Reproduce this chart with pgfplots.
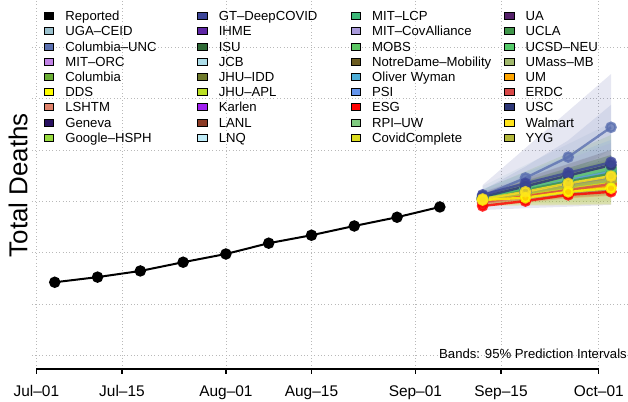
\documentclass[border=0pt]{standalone}
\usepackage{pgfplots}
\pgfplotsset{compat=1.18}
\usepackage{fontspec}
\setmainfont{Liberation Sans}
\definecolor{cUGA}{HTML}{9AC0CD}
\definecolor{cCUNC}{HTML}{5B70B0}
\definecolor{cMITORC}{HTML}{C183E6}
\definecolor{cColumbia}{HTML}{6BAE35}
\definecolor{cDDS}{HTML}{FFFF00}
\definecolor{cLSHTM}{HTML}{E0826A}
\definecolor{cGeneva}{HTML}{281060}
\definecolor{cGoogle}{HTML}{98DB3F}
\definecolor{cGT}{HTML}{3C4599}
\definecolor{cIHME}{HTML}{5E26A5}
\definecolor{cISU}{HTML}{2F6A35}
\definecolor{cJCB}{HTML}{ADDDE9}
\definecolor{cJHUIDD}{HTML}{6F7A2C}
\definecolor{cJHUAPL}{HTML}{BBE024}
\definecolor{cKarlen}{HTML}{A020F0}
\definecolor{cLANL}{HTML}{8B3A24}
\definecolor{cLNQ}{HTML}{C0ECF8}
\definecolor{cMITLCP}{HTML}{3CB878}
\definecolor{cMITCA}{HTML}{A99ADB}
\definecolor{cMOBS}{HTML}{5CC864}
\definecolor{cND}{HTML}{6B5B20}
\definecolor{cOW}{HTML}{4DAED8}
\definecolor{cPSI}{HTML}{6495ED}
\definecolor{cESG}{HTML}{FF0000}
\definecolor{cRPI}{HTML}{7FCA7F}
\definecolor{cCC}{HTML}{DCDC1E}
\definecolor{cUA}{HTML}{55216A}
\definecolor{cUCLA}{HTML}{40964A}
\definecolor{cUCSD}{HTML}{55CA6A}
\definecolor{cUMass}{HTML}{A1B86D}
\definecolor{cUM}{HTML}{FFA500}
\definecolor{cERDC}{HTML}{D84848}
\definecolor{cUSC}{HTML}{2C3676}
\definecolor{cWalmart}{HTML}{FFE41C}
\definecolor{cYYG}{HTML}{B4B83A}
\newcommand\band[9]{\addplot[forget plot, draw=none, fill=#1, fill opacity=0.13] coordinates {(73,#2)(80,#3)(87,#4)(94,#5)(94,#9)(87,#8)(80,#7)(73,#6)};}
\newcommand\med[5]{\addplot[forget plot, color=#1, opacity=0.8, line width=2.4bp, mark=*, mark size=4.6bp] coordinates {(73,#2)(80,#3)(87,#4)(94,#5)};}
\newcommand\leg[2]{\addlegendimage{fill=#1}\addlegendentry{#2}}
\begin{document}
\begin{tikzpicture}
\useasboundingbox (0,0) rectangle (628bp,402bp);
\begin{axis}[
  at={(32bp,33bp)}, anchor=south west, scale only axis,
  width=596bp, height=369bp,
  xmin=-0.72, xmax=96.78, ymin=94.75, ymax=238.33,
  clip=false,
  axis line style={draw=none},
  xtick={0,14,31,45,62,76,92},
  xticklabels={Jul–01,Jul–15,Aug–01,Aug–15,Sep–01,Sep–15,Oct–01},
  ytick={100,120,...,220}, yticklabel={\mbox{}},
  tick pos=left, tick align=outside,
  xtick style={black, line width=1.3bp}, major tick length=4.5bp,
  ytick style={draw=none},
  xmajorgrids, ymajorgrids,
  grid style={color=gray!55, line width=0.8bp, dash pattern=on 0.8bp off 2.6bp},
  xticklabel style={font=\fontsize{15.5}{18}\selectfont, anchor=base, yshift=-23bp},
  ylabel={Total Deaths},
  ylabel style={at={(axis description cs:-0.0079,0.4986)}, anchor=base, font=\fontsize{26}{30}\selectfont},
  legend columns=4, legend cell align=left,
  legend image code/.code={\fill[#1] (0bp,-3.5bp) rectangle (9.5bp,3.5bp);},
  legend style={at={(0.02013,0.97724)}, anchor=north west, draw=none, fill=none,
    inner sep=0pt, outer sep=0pt, row sep=0pt,
    font=\fontsize{13.2}{15}\selectfont,
    nodes={inner sep=0pt, text width=120bp, text height=12.3bp, text depth=2.9bp},
    /tikz/every odd column/.append style={column sep=11.5bp},
    /tikz/every even column/.append style={column sep=12bp}},
]
% reported
\addplot[forget plot, black, line width=2bp, mark=*, mark size=4.7bp] coordinates {
  (3,128.5)(10,130.5)(17,132.9)(24,136.3)(31,139.5)(38,143.7)(45,146.8)(52,150.4)(59,153.8)(66,157.8)};
% bands: lower (4 dates), upper (4 dates)
\band{cUGA}{159.5}{161.0}{162.5}{164.0}{165.9}{174.1}{182.3}{190.5}
\band{cCUNC}{159.9}{164.7}{170.6}{180.0}{164.3}{173.5}{183.7}{197.5}
\band{cMITORC}{159.9}{161.4}{162.9}{164.4}{161.9}{165.4}{168.7}{172.2}
\band{cColumbia}{159.5}{161.0}{162.5}{164.0}{164.5}{171.6}{178.7}{185.8}
\band{cDDS}{159.9}{160.1}{161.8}{162.5}{161.3}{163.0}{166.1}{168.3}
\band{cLSHTM}{158.0}{159.5}{161.0}{162.5}{161.8}{166.5}{171.4}{176.1}
\band{cGeneva}{160.1}{161.6}{163.0}{164.4}{161.6}{164.5}{167.3}{170.2}
\band{cGoogle}{158.8}{159.2}{159.6}{160.0}{162.2}{166.1}{170.2}{174.1}
\band{cGT}{156.6}{157.3}{157.9}{158.6}{166.3}{180.7}{195.1}{209.5}
\band{cIHME}{159.9}{162.0}{164.2}{166.3}{162.4}{167.0}{171.5}{176.1}
\band{cISU}{160.0}{162.1}{164.2}{166.3}{162.7}{167.4}{172.1}{176.8}
\band{cJCB}{159.5}{161.0}{162.5}{164.0}{163.8}{169.3}{174.6}{180.0}
\band{cJHUIDD}{159.3}{160.8}{162.2}{163.6}{163.2}{168.9}{174.4}{180.0}
\band{cJHUAPL}{158.5}{158.7}{158.9}{159.0}{161.7}{165.2}{168.7}{172.2}
\band{cKarlen}{159.6}{161.2}{162.8}{164.4}{162.1}{166.1}{170.1}{174.1}
\band{cLANL}{159.8}{161.6}{163.4}{165.2}{162.0}{166.1}{170.0}{174.1}
\band{cLNQ}{159.2}{160.3}{161.4}{162.5}{162.7}{167.1}{171.7}{176.1}
\band{cMITLCP}{160.3}{163.0}{165.7}{168.3}{162.3}{166.9}{171.5}{176.1}
\band{cMITCA}{159.5}{161.0}{162.5}{164.0}{163.7}{170.1}{176.4}{182.7}
\band{cMOBS}{160.0}{162.1}{164.2}{166.3}{162.5}{167.1}{171.5}{176.1}
\band{cND}{159.2}{160.3}{161.4}{162.5}{163.0}{168.1}{173.0}{178.0}
\band{cOW}{159.9}{161.4}{162.9}{164.4}{161.9}{165.4}{168.7}{172.2}
\band{cPSI}{159.5}{160.4}{161.5}{162.5}{164.8}{171.2}{177.6}{183.9}
\band{cESG}{157.8}{159.3}{161.3}{162.1}{158.7}{161.1}{163.9}{165.6}
\band{cRPI}{159.4}{161.1}{162.7}{164.4}{162.4}{167.0}{171.5}{176.1}
\band{cCC}{158.3}{158.5}{158.6}{158.8}{161.6}{164.9}{168.1}{171.4}
\band{cUA}{159.5}{161.0}{162.5}{164.0}{163.6}{169.1}{174.6}{180.0}
\band{cUCLA}{160.2}{162.0}{163.9}{165.7}{162.7}{167.0}{171.2}{175.5}
\band{cUCSD}{160.1}{162.9}{165.6}{168.3}{162.6}{167.7}{172.9}{178.0}
\band{cUMass}{159.0}{160.5}{162.0}{163.5}{162.7}{167.9}{172.9}{178.0}
\band{cUM}{159.1}{160.2}{161.1}{162.1}{161.0}{164.0}{166.9}{169.8}
\band{cERDC}{158.9}{160.5}{162.1}{163.6}{160.5}{163.6}{166.7}{169.8}
\band{cUSC}{160.7}{163.9}{167.1}{170.2}{162.7}{167.8}{172.9}{178.0}
\band{cWalmart}{160.0}{162.0}{164.4}{166.3}{161.7}{165.3}{169.4}{173.0}
\band{cYYG}{158.1}{158.3}{158.4}{158.6}{162.5}{167.0}{171.6}{176.1}
% medians
\med{cUGA}{161.3}{164.9}{168.6}{172.2}
\med{cCUNC}{162.1}{169.1}{177.2}{188.8}
\med{cMITORC}{160.9}{163.4}{165.8}{168.3}
\med{cColumbia}{161.3}{165.2}{169.1}{173.0}
\med{cLSHTM}{159.3}{161.6}{164.0}{166.3}
\med{cGeneva}{160.9}{163.1}{165.3}{167.5}
\med{cGoogle}{160.9}{163.6}{166.4}{169.1}
\med{cIHME}{160.9}{164.0}{167.1}{170.2}
\med{cISU}{161.3}{164.7}{168.0}{171.4}
\med{cJCB}{160.9}{163.4}{165.8}{168.3}
\med{cJHUIDD}{160.5}{163.4}{166.2}{169.1}
\med{cJHUAPL}{160.5}{162.8}{165.2}{167.5}
\med{cKarlen}{160.9}{163.8}{166.6}{169.5}
\med{cLANL}{160.9}{163.9}{166.8}{169.8}
\med{cLNQ}{160.9}{163.6}{166.4}{169.1}
\med{cMITLCP}{161.3}{164.9}{168.6}{172.2}
\med{cMITCA}{161.3}{165.2}{169.1}{173.0}
\med{cMOBS}{161.3}{164.7}{168.0}{171.4}
\med{cND}{160.9}{163.8}{166.6}{169.5}
\med{cOW}{160.9}{163.4}{165.8}{168.3}
\med{cPSI}{161.7}{164.9}{168.2}{171.4}
\med{cRPI}{160.9}{164.0}{167.1}{170.2}
\med{cCC}{160.5}{162.7}{164.9}{167.1}
\med{cUA}{160.9}{163.6}{166.4}{169.1}
\med{cUCLA}{161.5}{164.6}{167.7}{170.8}
\med{cUCSD}{161.3}{165.2}{169.1}{173.0}
\med{cUMass}{160.5}{163.4}{166.2}{169.1}
\med{cUM}{160.1}{162.1}{164.0}{166.0}
\med{cERDC}{159.7}{162.0}{164.4}{166.7}
\med{cYYG}{160.5}{163.1}{165.7}{168.3}
\med{cUSC}{161.7}{165.8}{170.0}{174.1}
\med{cGT}{162.5}{167.0}{171.1}{175.2}
\med{cESG}{158.2}{160.1}{162.5}{163.7}
\med{cDDS}{160.5}{161.4}{163.7}{165.1}
\med{cWalmart}{160.9}{163.7}{167.0}{169.8}
% legend, row by row
\leg{black}{Reported}\leg{cGT}{GT–DeepCOVID}\leg{cMITLCP}{MIT–LCP}\leg{cUA}{UA}
\leg{cUGA}{UGA–CEID}\leg{cIHME}{IHME}\leg{cMITCA}{MIT–CovAlliance}\leg{cUCLA}{UCLA}
\leg{cCUNC}{Columbia–UNC}\leg{cISU}{ISU}\leg{cMOBS}{MOBS}\leg{cUCSD}{UCSD–NEU}
\leg{cMITORC}{MIT–ORC}\leg{cJCB}{JCB}\leg{cND}{NotreDame–Mobility}\leg{cUMass}{UMass–MB}
\leg{cColumbia}{Columbia}\leg{cJHUIDD}{JHU–IDD}\leg{cOW}{Oliver Wyman}\leg{cUM}{UM}
\leg{cDDS}{DDS}\leg{cJHUAPL}{JHU–APL}\leg{cPSI}{PSI}\leg{cERDC}{ERDC}
\leg{cLSHTM}{LSHTM}\leg{cKarlen}{Karlen}\leg{cESG}{ESG}\leg{cUSC}{USC}
\leg{cGeneva}{Geneva}\leg{cLANL}{LANL}\leg{cRPI}{RPI–UW}\leg{cWalmart}{Walmart}
\leg{cGoogle}{Google–HSPH}\leg{cLNQ}{LNQ}\leg{cCC}{CovidComplete}\leg{cYYG}{YYG}
\draw[black, line width=1.8bp] (axis cs:0,94.75) -- (axis cs:92,94.75);
\node[anchor=base east, inner sep=0pt, font=\fontsize{13.2}{15}\selectfont] at (rel axis cs:0.9983,0.0298) {Bands: 95\% Prediction Intervals};
\end{axis}
\end{tikzpicture}
\end{document}
